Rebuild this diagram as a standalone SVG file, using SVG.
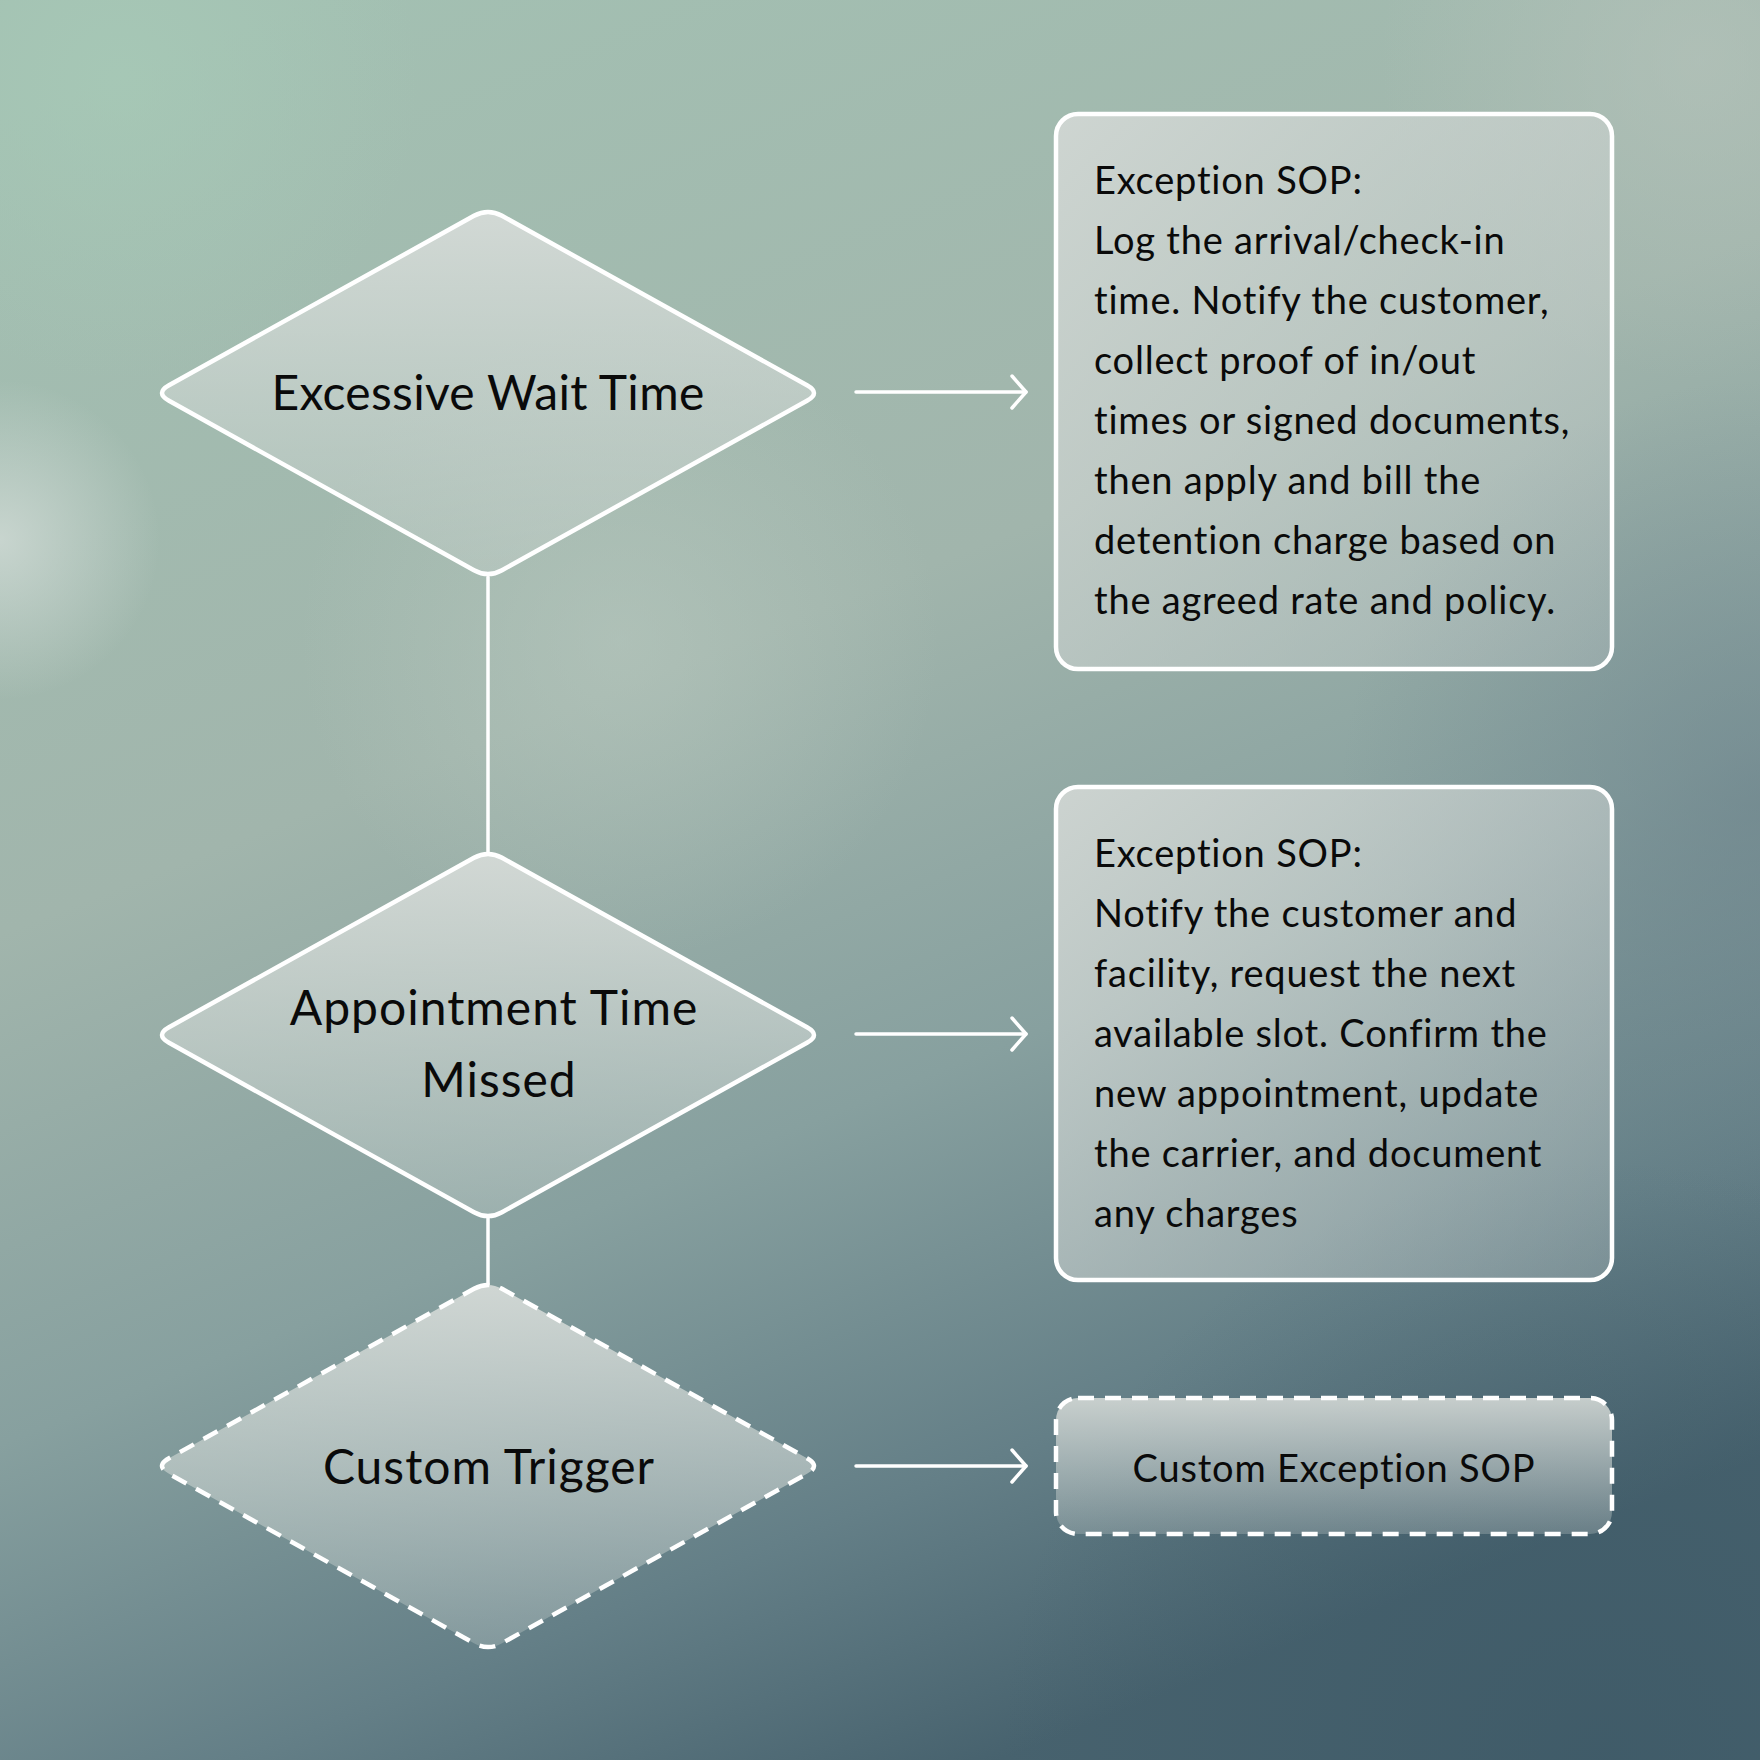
<svg xmlns="http://www.w3.org/2000/svg" width="1760" height="1760" viewBox="0 0 1760 1760">
<defs>
<style>
.dia{stroke:#ffffff;stroke-width:4.5;stroke-linejoin:round}
.box{stroke:#ffffff;stroke-width:4.5}
.dash{stroke-dasharray:16 11}
.lbl{font-family:"Lato","Liberation Sans",sans-serif;font-size:48px;letter-spacing:1px;fill:#0a0a0a;text-anchor:middle}
.body{font-family:"Lato","Liberation Sans",sans-serif;font-size:38px;letter-spacing:0.8px;fill:#0a0a0a}
.conn{stroke:#ffffff;stroke-width:3.5;fill:none;stroke-linecap:round}
</style>
<linearGradient id="bg" x1="300" y1="0" x2="1000" y2="1760" gradientUnits="userSpaceOnUse">
<stop offset="0" stop-color="#a3c0b2"/>
<stop offset="0.4" stop-color="#a1b5ac"/>
<stop offset="0.65" stop-color="#87a09f"/>
<stop offset="0.85" stop-color="#647f87"/>
<stop offset="1" stop-color="#47626e"/>
</linearGradient>
<radialGradient id="g1" cx="0" cy="540" r="160" gradientUnits="userSpaceOnUse">
<stop offset="0" stop-color="#d8e0dc" stop-opacity="0.7"/>
<stop offset="1" stop-color="#d8e0dc" stop-opacity="0"/>
</radialGradient>
<radialGradient id="g2" cx="1760" cy="800" r="420" gradientUnits="userSpaceOnUse">
<stop offset="0" stop-color="#6c828b" stop-opacity="0.6"/>
<stop offset="1" stop-color="#6c828b" stop-opacity="0"/>
</radialGradient>
<radialGradient id="g3" cx="620" cy="640" r="320" gradientUnits="userSpaceOnUse">
<stop offset="0" stop-color="#bccbc2" stop-opacity="0.5"/>
<stop offset="1" stop-color="#bccbc2" stop-opacity="0"/>
</radialGradient>
<radialGradient id="g4" cx="1700" cy="60" r="320" gradientUnits="userSpaceOnUse">
<stop offset="0" stop-color="#b8c4bc" stop-opacity="0.6"/>
<stop offset="1" stop-color="#b8c4bc" stop-opacity="0"/>
</radialGradient>
<radialGradient id="g5" cx="1600" cy="1760" r="600" gradientUnits="userSpaceOnUse">
<stop offset="0" stop-color="#3b5765" stop-opacity="0.6"/>
<stop offset="1" stop-color="#3b5765" stop-opacity="0"/>
</radialGradient>
<radialGradient id="g6" cx="120" cy="80" r="300" gradientUnits="userSpaceOnUse">
<stop offset="0" stop-color="#a8ccb8" stop-opacity="0.6"/>
<stop offset="1" stop-color="#a8ccb8" stop-opacity="0"/>
</radialGradient>
<linearGradient id="dfill" x1="0" y1="0" x2="0" y2="1">
<stop offset="0" stop-color="#d6dbd8" stop-opacity="0.92"/>
<stop offset="1" stop-color="#c9d3cf" stop-opacity="0.3"/>
</linearGradient>
<linearGradient id="bfill" x1="0" y1="0" x2="1" y2="1">
<stop offset="0" stop-color="#d3d8d5" stop-opacity="0.9"/>
<stop offset="1" stop-color="#c3ccca" stop-opacity="0.3"/>
</linearGradient>
<linearGradient id="b3fill" x1="0" y1="0" x2="0" y2="1">
<stop offset="0" stop-color="#d3d8d5" stop-opacity="0.9"/>
<stop offset="1" stop-color="#c3ccca" stop-opacity="0.3"/>
</linearGradient>
<marker id="arr" markerUnits="userSpaceOnUse" markerWidth="24" markerHeight="36" refX="16" refY="18" orient="auto">
<path d="M 2,2 L 16,18 L 2,34" fill="none" stroke="#ffffff" stroke-width="3.5" stroke-linecap="round" stroke-linejoin="round"/>
</marker>
</defs>
<rect width="1760" height="1760" fill="url(#bg)"/>
<rect width="1760" height="1760" fill="url(#g6)"/>
<rect width="1760" height="1760" fill="url(#g1)"/>
<rect width="1760" height="1760" fill="url(#g2)"/>
<rect width="1760" height="1760" fill="url(#g3)"/>
<rect width="1760" height="1760" fill="url(#g4)"/>
<rect width="1760" height="1760" fill="url(#g5)"/>

<g id="connectors">
<line class="conn" x1="488" y1="577" x2="488" y2="853"/>
<line class="conn" x1="488" y1="1218" x2="488" y2="1285"/>
<line class="conn" x1="856" y1="392" x2="1026" y2="392" marker-end="url(#arr)"/>
<line class="conn" x1="856" y1="1034" x2="1026" y2="1034" marker-end="url(#arr)"/>
<line class="conn" x1="856" y1="1466" x2="1026" y2="1466" marker-end="url(#arr)"/>
</g>

<g id="node-excessive-wait">
<path class="dia" d="M -14,-177.2 Q 0,-185 14,-177.2 L 319,-7.8 Q 333,0 319,7.8 L 14,177.2 Q 0,185 -14,177.2 L -319,7.8 Q -333,0 -319,-7.8 Z" transform="translate(488,393)" fill="url(#dfill)"/>
<text class="lbl" x="488" y="410" style="letter-spacing:0.3px">Excessive Wait Time</text>
</g>

<g id="node-appointment-missed">
<path class="dia" d="M -14,-177.2 Q 0,-185 14,-177.2 L 319,-7.8 Q 333,0 319,7.8 L 14,177.2 Q 0,185 -14,177.2 L -319,7.8 Q -333,0 -319,-7.8 Z" transform="translate(488,1035)" fill="url(#dfill)"/>
<text class="lbl" x="494" y="1025">Appointment Time</text>
<text class="lbl" x="499" y="1097">Missed</text>
</g>

<g id="node-custom-trigger">
<path class="dia dash" d="M -14,-177.2 Q 0,-185 14,-177.2 L 319,-7.8 Q 333,0 319,7.8 L 14,177.2 Q 0,185 -14,177.2 L -319,7.8 Q -333,0 -319,-7.8 Z" transform="translate(488,1466)" fill="url(#dfill)"/>
<text class="lbl" x="489" y="1484">Custom Trigger</text>
</g>

<g id="node-sop-wait">
<rect class="box" x="1056" y="114" width="556" height="555" rx="22" fill="url(#bfill)"/>
<text class="body">
<tspan x="1094" y="194">Exception SOP:</tspan>
<tspan x="1094" y="254">Log the arrival/check-in</tspan>
<tspan x="1094" y="314">time. Notify the customer,</tspan>
<tspan x="1094" y="374">collect proof of in/out</tspan>
<tspan x="1094" y="434">times or signed documents,</tspan>
<tspan x="1094" y="494">then apply and bill the</tspan>
<tspan x="1094" y="554">detention charge based on</tspan>
<tspan x="1094" y="614">the agreed rate and policy.</tspan>
</text>
</g>

<g id="node-sop-appointment">
<rect class="box" x="1056" y="787" width="556" height="493" rx="22" fill="url(#bfill)"/>
<text class="body">
<tspan x="1094" y="867">Exception SOP:</tspan>
<tspan x="1094" y="927">Notify the customer and</tspan>
<tspan x="1094" y="987">facility, request the next</tspan>
<tspan x="1094" y="1047">available slot. Confirm the</tspan>
<tspan x="1094" y="1107">new appointment, update</tspan>
<tspan x="1094" y="1167">the carrier, and document</tspan>
<tspan x="1094" y="1227">any charges</tspan>
</text>
</g>

<g id="node-sop-custom">
<rect class="box dash" x="1056" y="1398" width="556" height="136" rx="22" fill="url(#b3fill)"/>
<text class="body" x="1334" y="1482" text-anchor="middle">Custom Exception SOP</text>
</g>
</svg>
